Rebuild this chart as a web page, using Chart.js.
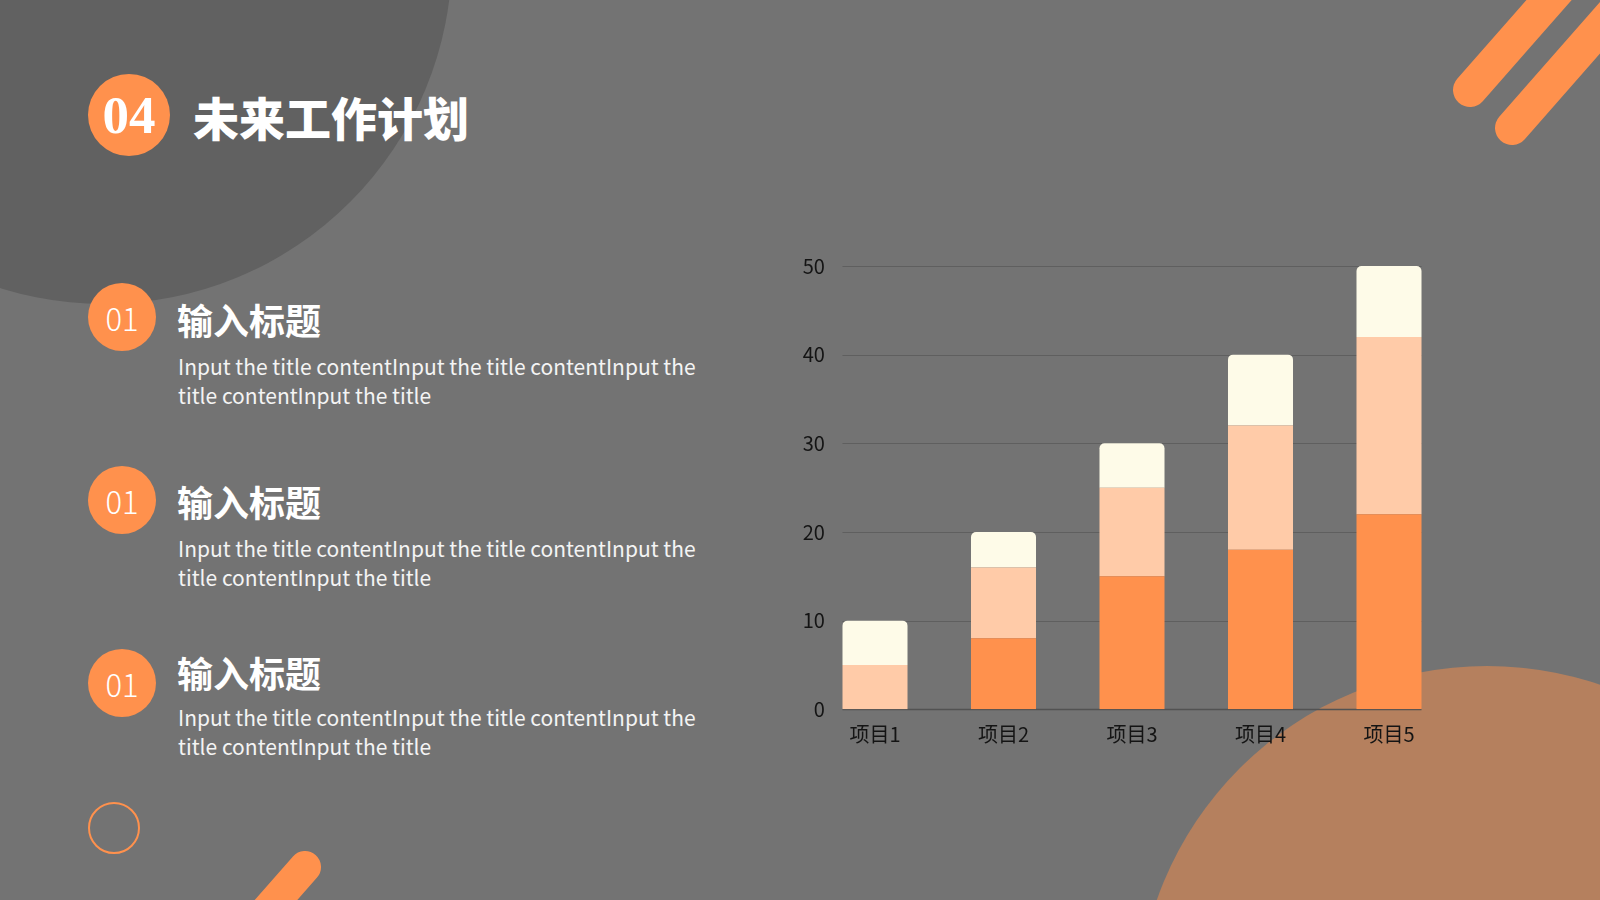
<!DOCTYPE html>
<html lang="zh-CN">
<head>
<meta charset="utf-8">
<title>未来工作计划</title>
<script src="https://cdn.jsdelivr.net/npm/chart.js@4.4.1/dist/chart.umd.min.js"></script>
<style>
  html, body { margin: 0; padding: 0; }
  body {
    width: 1600px; height: 900px; overflow: hidden; position: relative;
    background: #737373;
    font-family: "Noto Sans CJK SC", "Noto Sans", sans-serif;
  }
  .abs { position: absolute; }
  .disc { position: absolute; border-radius: 50%; }
  .stripe { position: absolute; background: #ff914d; }
  .num {
    position: absolute; border-radius: 50%; background: #ff914d; color: #fff;
    display: flex; align-items: center; justify-content: center;
  }
  .head { position: absolute; color: #fff; font-weight: 700; font-size: 36px; line-height: 40px; white-space: nowrap; }
  .body { position: absolute; color: #f4f4f4; font-size: 21px; line-height: 29px; white-space: nowrap; }
  #chartBox { position: absolute; left: 780px; top: 236px; width: 680px; height: 524px; }
</style>
</head>
<body>

<!-- background shapes -->
<div class="disc" style="left:-244px; top:-392px; width:696px; height:696px; background:#616161;"></div>
<div class="disc" style="left:1137px; top:666px; width:700px; height:700px; background:#b5805e;"></div>
<div class="disc" style="left:88px; top:802px; width:48px; height:48px; border:2px solid #ff914d;"></div>

<div class="stripe" style="left:1453px; top:73px; width:220px; height:34px; border-radius:17px; transform-origin:17px 17px; transform:rotate(-48.7deg);"></div>
<div class="stripe" style="left:1495px; top:111px; width:220px; height:34px; border-radius:17px; transform-origin:17px 17px; transform:rotate(-48.7deg);"></div>
<div class="stripe" style="left:289px; top:851px; width:160px; height:32px; border-radius:16px; transform-origin:16px 16px; transform:rotate(131.3deg);"></div>

<!-- header -->
<div class="num" style="left:88px; top:74px; width:82px; height:82px; font-family:'Liberation Serif','DejaVu Serif',serif; font-weight:700; font-size:53px;">04</div>
<div class="abs" style="left:193px; top:88px; color:#fff; font-size:46px; font-weight:900; line-height:56px; white-space:nowrap;">未来工作计划</div>

<!-- items -->
<div class="num" style="left:88px; top:283px; width:68px; height:68px; font-size:31px; font-weight:300;">01</div>
<div class="head" style="left:177px; top:298.5px;">输入标题</div>
<div class="body" style="left:178px; top:351.5px;">Input the title contentInput the title contentInput the<br>title contentInput the title</div>

<div class="num" style="left:88px; top:466px; width:68px; height:68px; font-size:31px; font-weight:300;">01</div>
<div class="head" style="left:177px; top:480.5px;">输入标题</div>
<div class="body" style="left:178px; top:533.5px;">Input the title contentInput the title contentInput the<br>title contentInput the title</div>

<div class="num" style="left:88px; top:649px; width:68px; height:68px; font-size:31px; font-weight:300;">01</div>
<div class="head" style="left:177px; top:651.5px;">输入标题</div>
<div class="body" style="left:178px; top:703px;">Input the title contentInput the title contentInput the<br>title contentInput the title</div>

<div id="chartBox"><canvas id="barChart"></canvas></div>

<script>
// ── data ─────────────────────────────────────────────
const categories = ['项目1', '项目2', '项目3', '项目4', '项目5'];
const series1 = [0, 8, 15, 18, 22];
const series2 = [5, 8, 10, 14, 20];
const series3 = [5, 4, 5, 8, 8];
const yMin = 0;
const yMax = 50;
const yStep = 10;

const labelFont = { family: "'Noto Sans CJK SC'", size: 20 };

// horizontal grid lines that only span the bars (first bar left edge to last bar right edge)
const shortGrid = {
  id: 'shortGrid',
  beforeDatasetsDraw(chart) {
    const { ctx, scales: { y } } = chart;
    const bars = chart.getDatasetMeta(0).data;
    if (!bars.length) return;
    const x0 = bars[0].x - bars[0].width / 2;
    const x1 = bars[bars.length - 1].x + bars[bars.length - 1].width / 2;
    ctx.save();
    y.ticks.forEach(t => {
      const py = Math.round(y.getPixelForValue(t.value)) + 0.5;
      ctx.strokeStyle = t.value === 0 ? '#525252' : '#5f5f5f';
      ctx.lineWidth = t.value === 0 ? 1.5 : 1;
      ctx.beginPath();
      ctx.moveTo(x0, py);
      ctx.lineTo(x1, py);
      ctx.stroke();
    });
    ctx.restore();
  },
};

const ctx = document.getElementById('barChart').getContext('2d');

new Chart(ctx, {
  type: 'bar',
  plugins: [shortGrid],
  data: {
    labels: categories,
    datasets: [
      { label: '系列1', data: series1, backgroundColor: '#ff914d', borderRadius: 0 },
      { label: '系列2', data: series2, backgroundColor: '#ffcba8', borderRadius: 0 },
      {
        label: '系列3', data: series3, backgroundColor: '#fefbe8',
        borderRadius: { topLeft: 5, topRight: 5, bottomLeft: 0, bottomRight: 0 },
        borderSkipped: false,
      },
    ],
  },
  options: {
    responsive: true,
    maintainAspectRatio: false,
    animation: false,
    categoryPercentage: 1,
    barPercentage: 0.506,
    layout: { padding: { top: 30, right: 6.75, bottom: 0, left: 0 } },
    plugins: {
      legend: { display: false },
      tooltip: { enabled: false },
    },
    scales: {
      x: {
        stacked: true,
        grid: { display: false, drawTicks: false },
        border: { display: false },
        ticks: { color: '#141414', font: labelFont, padding: 13 },
        afterFit(scale) { scale.height = 50.7; },
      },
      y: {
        stacked: true,
        min: yMin,
        max: yMax,
        grid: { display: false, drawTicks: false },
        border: { display: false },
        // mirrored so the labels can sit right of the plot edge, right-aligned
        ticks: { stepSize: yStep, color: '#141414', font: labelFont, mirror: true, crossAlign: 'far', padding: -8 },
        afterFit(scale) { scale.width = 30.75; },
      },
    },
  },
});
</script>
</body>
</html>
